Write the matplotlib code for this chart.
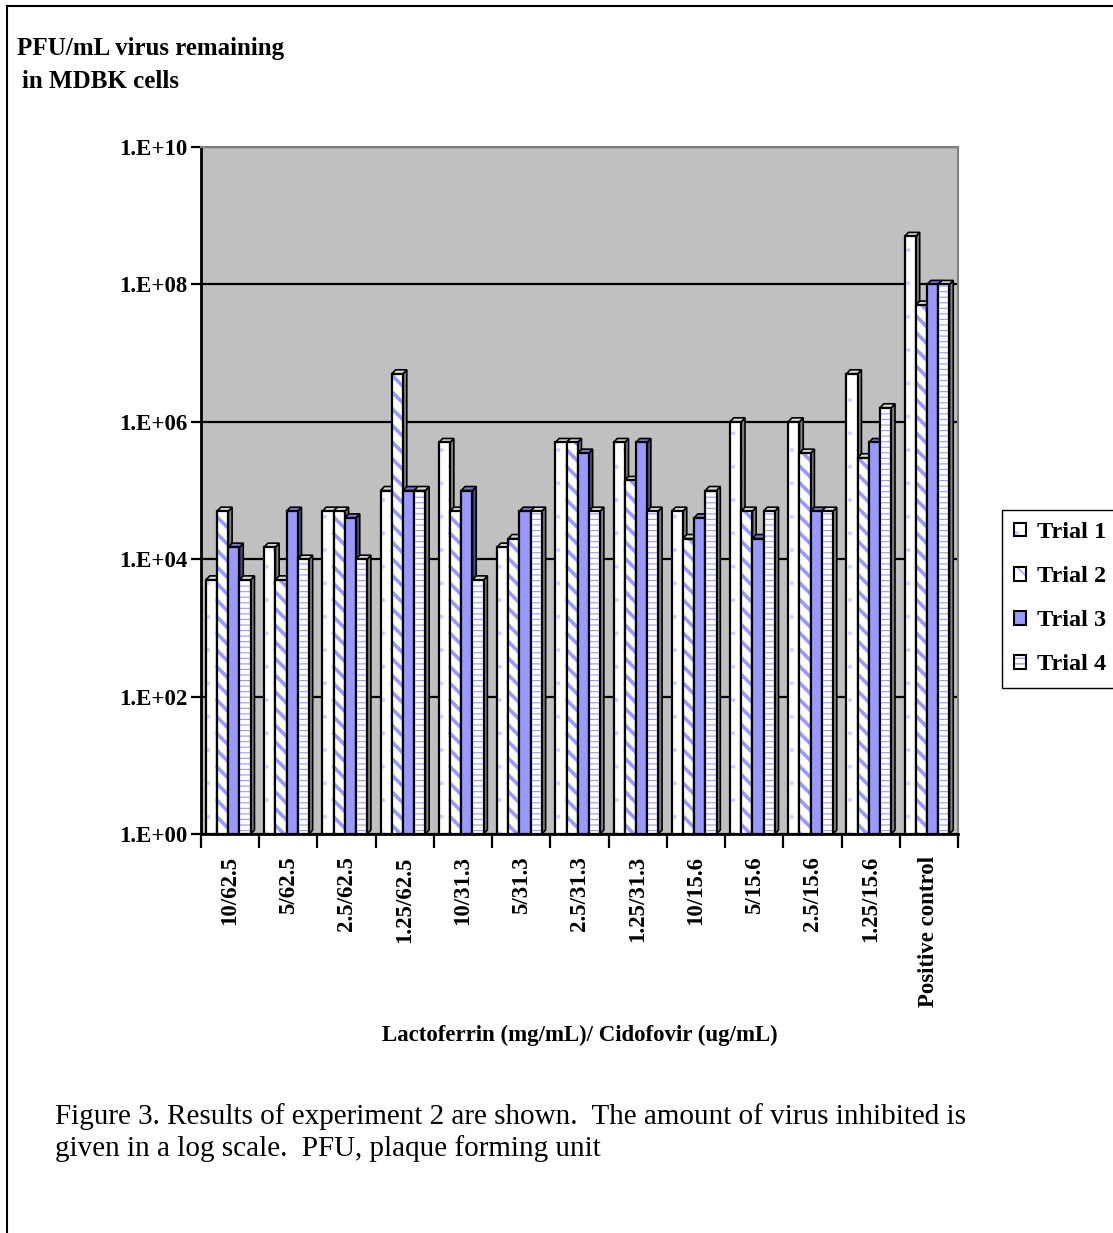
import numpy as np
import matplotlib.pyplot as plt
from matplotlib.patches import Polygon, Patch
from matplotlib.legend_handler import HandlerTuple
from matplotlib.lines import Line2D

plt.rcParams['font.family'] = ['Liberation Serif', 'DejaVu Serif']
plt.rcParams['font.weight'] = 'bold'

# 数据（从原图读取的 PFU/mL）
categories = ['10/62.5', '5/62.5', '2.5/62.5', '1.25/62.5', '10/31.3', '5/31.3',
              '2.5/31.3', '1.25/31.3', '10/15.6', '5/15.6', '2.5/15.6', '1.25/15.6',
              'Positive control']
trial_1 = [5e3, 1.5e4, 5e4, 1e5, 5e5, 1.5e4, 5e5, 5e5, 5e4, 1e6, 1e6, 5e6, 5e8]
trial_2 = [5e4, 5e3, 5e4, 5e6, 5e4, 2e4, 5e5, 1.4e5, 2e4, 5e4, 3.5e5, 3e5, 5e7]
trial_3 = [1.5e4, 5e4, 4e4, 1e5, 1e5, 5e4, 3.5e5, 5e5, 4e4, 2e4, 5e4, 5e5, 1e8]
trial_4 = [5e3, 1e4, 1e4, 1e5, 5e3, 5e4, 5e4, 5e4, 1e5, 5e4, 5e4, 1.6e6, 1e8]
trial_names = ['Trial 1', 'Trial 2', 'Trial 3', 'Trial 4']
y_ticks = [1e0, 1e2, 1e4, 1e6, 1e8, 1e10]

# 样式：填充色、阴影线、阴影线颜色、阴影线宽、侧面/顶面颜色
blue = '#9999FF'
styles = [
    dict(face='white', hatch='.', hcolor='#D0D0FF', hatch_lw=0.5, side='#808080', top='#D8D8D8'),
    dict(face='white', hatch='\\\\', hcolor=blue, hatch_lw=2.6, side='#808080', top='#D8D8D8'),
    dict(face=blue, hatch=None, hcolor=blue, hatch_lw=1.0, side='#4C4C80', top='#7777CC'),
    dict(face='white', hatch='---', hcolor=blue, hatch_lw=0.8, side='#808080', top='#D8D8D8'),
]

W, H = 1113, 1233
fig = plt.figure(figsize=(W / 100, H / 100), dpi=100)
ax = fig.add_axes([201 / W, 1 - 834 / H, (958 - 201) / W, (834 - 147) / H])
ax.set_yscale('log')
ax.set_ylim(1, 1e10)
ax.set_xlim(0, len(categories))
ax.set_facecolor('#C0C0C0')

n = len(categories)
x_base = np.arange(n)
bar_w = 0.192
x_start = 0.085
dx = 0.065          # 3D 深度（x 方向，数据单位）
fy = 10 ** 0.058    # 3D 深度（y 方向，对数比例）
edge_lw = 1.6

for j, vals in enumerate([trial_1, trial_2, trial_3, trial_4]):
    st = styles[j]
    vals = np.array(vals)
    x0 = x_base + x_start + j * bar_w
    z = 3 + j * 2
    # 侧面与顶面
    for xi, v in zip(x0, vals):
        x1 = xi + bar_w
        side = Polygon([(x1, 1), (x1, v), (x1 + dx, v * fy), (x1 + dx, fy)],
                       closed=True, facecolor=st['side'], edgecolor='black',
                       linewidth=1.2, zorder=z)
        top = Polygon([(xi, v), (xi + dx, v * fy), (x1 + dx, v * fy), (x1, v)],
                      closed=True, facecolor=st['top'], edgecolor='black',
                      linewidth=1.2, zorder=z)
        ax.add_patch(side)
        ax.add_patch(top)
    # 正面（阴影层 + 黑色轮廓）
    with plt.rc_context({'hatch.linewidth': st['hatch_lw']}):
        bars = ax.bar(x0, vals - 1, bar_w, bottom=1, align='edge',
                      color=st['face'], edgecolor=st['hcolor'], hatch=st['hatch'],
                      linewidth=0, zorder=z + 1)
    for b in bars:
        if hasattr(b, 'set_hatch_linewidth'):
            b.set_hatch_linewidth(st['hatch_lw'])
    ax.bar(x0, vals - 1, bar_w, bottom=1, align='edge', fill=False,
           edgecolor='black', linewidth=edge_lw, zorder=z + 1.5)

# 网格线
ax.yaxis.grid(True, color='black', linewidth=1.6)
ax.set_axisbelow(True)

# 坐标轴
ax.set_yticks(y_ticks)
ax.set_yticklabels(['1.E+%02d' % int(np.log10(t)) for t in y_ticks])
ax.yaxis.set_minor_locator(plt.NullLocator())
ax.tick_params(axis='y', which='major', direction='out', length=7, width=1.6,
               labelsize=16.5, pad=3)

ax.set_xticks(np.arange(n + 1))
ax.set_xticklabels([])
ax.set_xticks(x_base + 0.5, minor=True)
ax.set_xticklabels(categories, minor=True, rotation=90, fontsize=16.5,
                   va='top', ha='center')
ax.tick_params(axis='x', which='major', direction='out', length=10, width=1.6)
ax.tick_params(axis='x', which='minor', length=0, pad=16)

for side_name in ['top', 'right']:
    ax.spines[side_name].set_color('#808080')
    ax.spines[side_name].set_linewidth(1.5)
for side_name in ['left', 'bottom']:
    ax.spines[side_name].set_color('black')
    ax.spines[side_name].set_linewidth(2.0)

# 图例
handles = []
for st in styles:
    with plt.rc_context({'hatch.linewidth': st['hatch_lw']}):
        fill_p = Patch(facecolor=st['face'], edgecolor=st['hcolor'],
                       hatch=st['hatch'], linewidth=0)
    edge_p = Patch(fill=False, edgecolor='black', linewidth=1.5)
    handles.append((fill_p, edge_p))

fig.legend(handles, trial_names, loc='upper left',
           bbox_to_anchor=(1002 / W, 1 - 510 / H),
           handler_map={tuple: HandlerTuple(ndivide=1, pad=0)},
           prop={'weight': 'bold', 'size': 17.5},
           frameon=True, fancybox=False, edgecolor='black', framealpha=1,
           handlelength=0.5, handleheight=0.5, handletextpad=0.45,
           labelspacing=0.95, borderpad=0.5, borderaxespad=0)

# 文字
fig.text(17 / W, 1 - 48 / H, 'PFU/mL virus remaining', fontsize=18,
         weight='bold', va='center', ha='left')
fig.text(22 / W, 1 - 82 / H, 'in MDBK cells', fontsize=18,
         weight='bold', va='center', ha='left')
fig.text(579.5 / W, 1 - 1035 / H, 'Lactoferrin (mg/mL)/ Cidofovir (ug/mL)',
         fontsize=16.5, weight='bold', va='center', ha='center')
fig.text(55 / W, 1 - 1117 / H,
         'Figure 3. Results of experiment 2 are shown.  The amount of virus inhibited is',
         fontsize=21, weight='normal', va='center', ha='left')
fig.text(55 / W, 1 - 1149 / H,
         'given in a log scale.  PFU, plaque forming unit',
         fontsize=21, weight='normal', va='center', ha='left')

# 外边框（左、上）
fig.add_artist(Line2D([7 / W, 7 / W], [0, 1 - 6 / H], transform=fig.transFigure,
                      color='black', linewidth=1.5))
fig.add_artist(Line2D([7 / W, 1], [1 - 6 / H, 1 - 6 / H], transform=fig.transFigure,
                      color='black', linewidth=1.5))

fig.savefig('out.png', dpi=100)
plt.close(fig)
